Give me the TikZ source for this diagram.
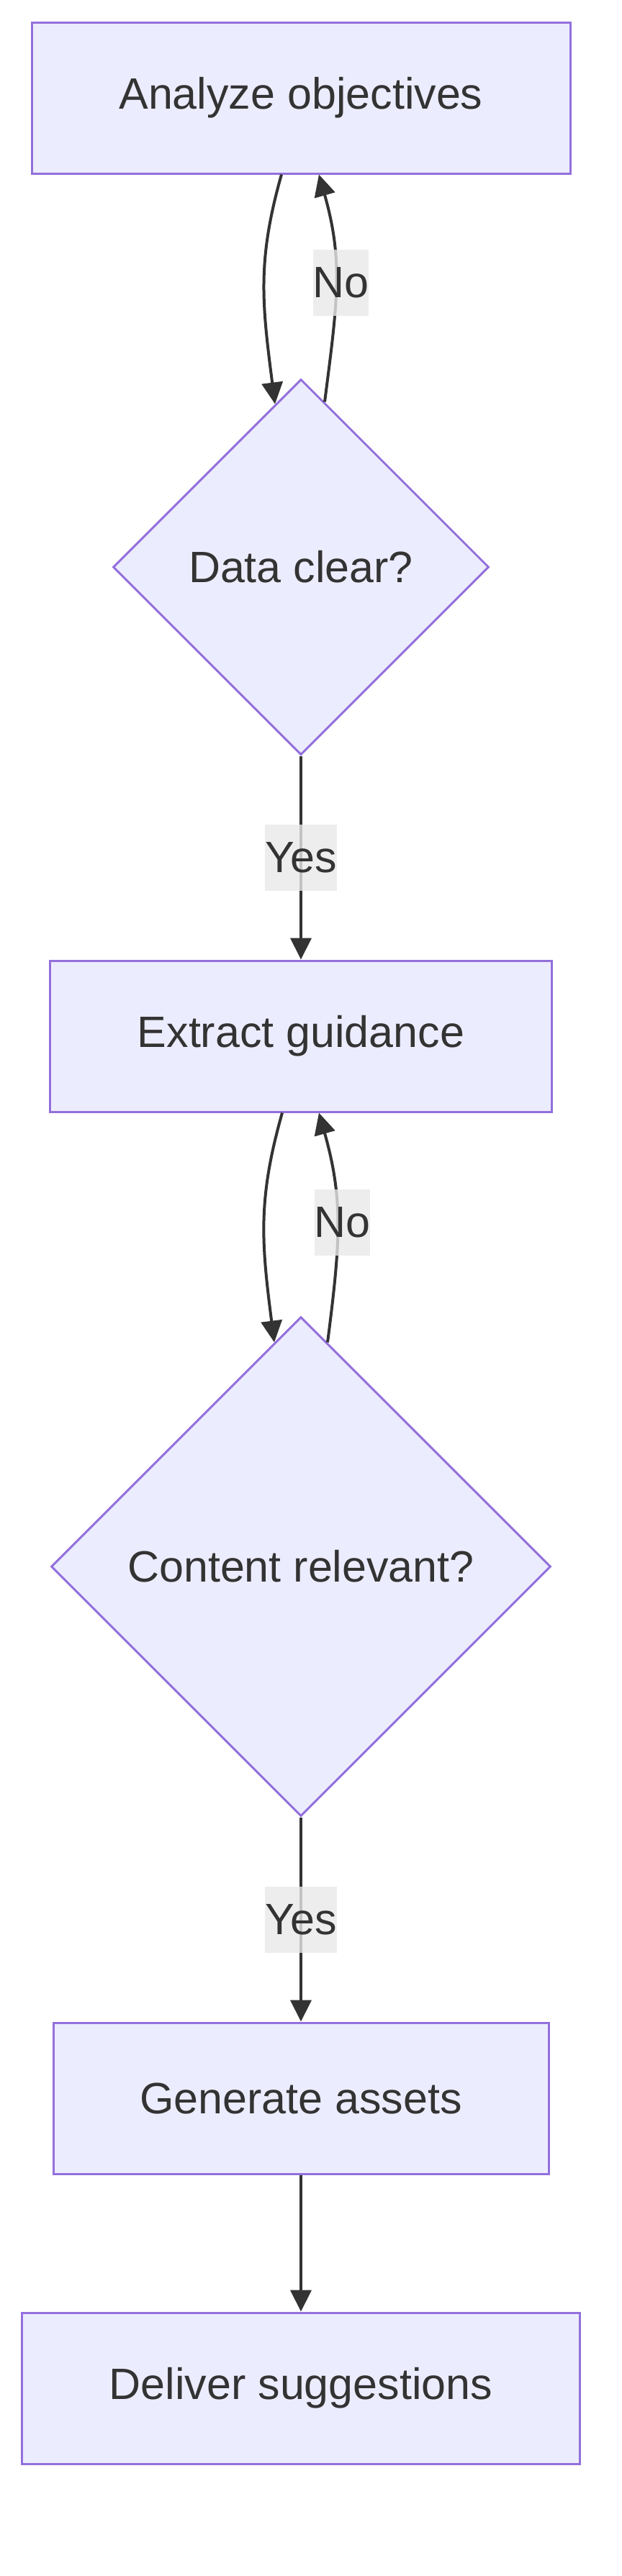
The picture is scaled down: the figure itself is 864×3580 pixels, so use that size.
\documentclass[tikz,border=0pt]{standalone}
\usepackage{fontspec}
\setmainfont{Liberation Sans}
\usetikzlibrary{positioning,calc,shapes.geometric,arrows.meta}
\definecolor{mmfill}{HTML}{ECECFF}
\definecolor{mmline}{HTML}{9370DB}
\definecolor{mmink}{HTML}{333333}
\definecolor{mmlabel}{HTML}{E8E8E8}

\begin{document}
\begin{tikzpicture}[x=1pt, y=-1pt,
  stepbox/.style={rectangle, draw=mmline, fill=mmfill, line width=3pt, minimum height=210pt, inner sep=0pt, font=\fontsize{61}{73}\selectfont\color{mmink}},
  askbox/.style={diamond, draw=mmline, fill=mmfill, line width=3pt, inner sep=0pt, font=\fontsize{61}{73}\selectfont\color{mmink}},
  flow/.style={draw=mmink, line width=4pt, -{Triangle[length=30pt,width=29pt]}},
  edgelbl/.style={fill=mmlabel, fill opacity=0.8, text opacity=1, inner xsep=0pt, inner ysep=0pt, minimum height=92pt, font=\fontsize{61}{73}\selectfont, text=mmink},
]
\useasboundingbox (0,0) rectangle (864,3580);
\def\xc{418}

% steps and checks
\node[stepbox, minimum width=748pt] (anal) at (\xc,136) {Analyze objectives};
\node[askbox, minimum width=522pt, minimum height=522pt] (clear) at (\xc,788) {Data clear?};
\node[stepbox, minimum width=697pt] (guide) at (\xc,1440) {Extract guidance};
\node[askbox, minimum width=694pt, minimum height=694pt] (relev) at (\xc,2177) {Content relevant?};
\node[stepbox, minimum width=688pt] (gen) at (\xc,2916) {Generate assets};
\node[stepbox, minimum width=775pt] (deliv) at (\xc,3319) {Deliver suggestions};

% first loop
\draw[flow] ($(anal.south)+(-27,0)$) .. controls +(-34,120) and +(-18,-140) .. ($(clear.north)+(-36,36)$);
\draw[flow] ($(clear.north)+(33,33)$) .. controls +(18,-140) and +(34,120) .. ($(anal.south)+(25,0)$) node[edgelbl, pos=.5, xshift=7pt] {No};
\draw[flow] (clear.south) -- (guide.north) node[edgelbl, pos=.5] {Yes};

% second loop
\draw[flow] ($(guide.south)+(-26,0)$) .. controls +(-34,120) and +(-18,-140) .. ($(relev.north)+(-37,37)$);
\draw[flow] ($(relev.north)+(37,37)$) .. controls +(18,-140) and +(34,120) .. ($(guide.south)+(25,0)$) node[edgelbl, pos=.5, xshift=7pt] {No};
\draw[flow] (relev.south) -- (gen.north) node[edgelbl, pos=.5] {Yes};

\draw[flow] (gen.south) -- (deliv.north);
\end{tikzpicture}
\end{document}
